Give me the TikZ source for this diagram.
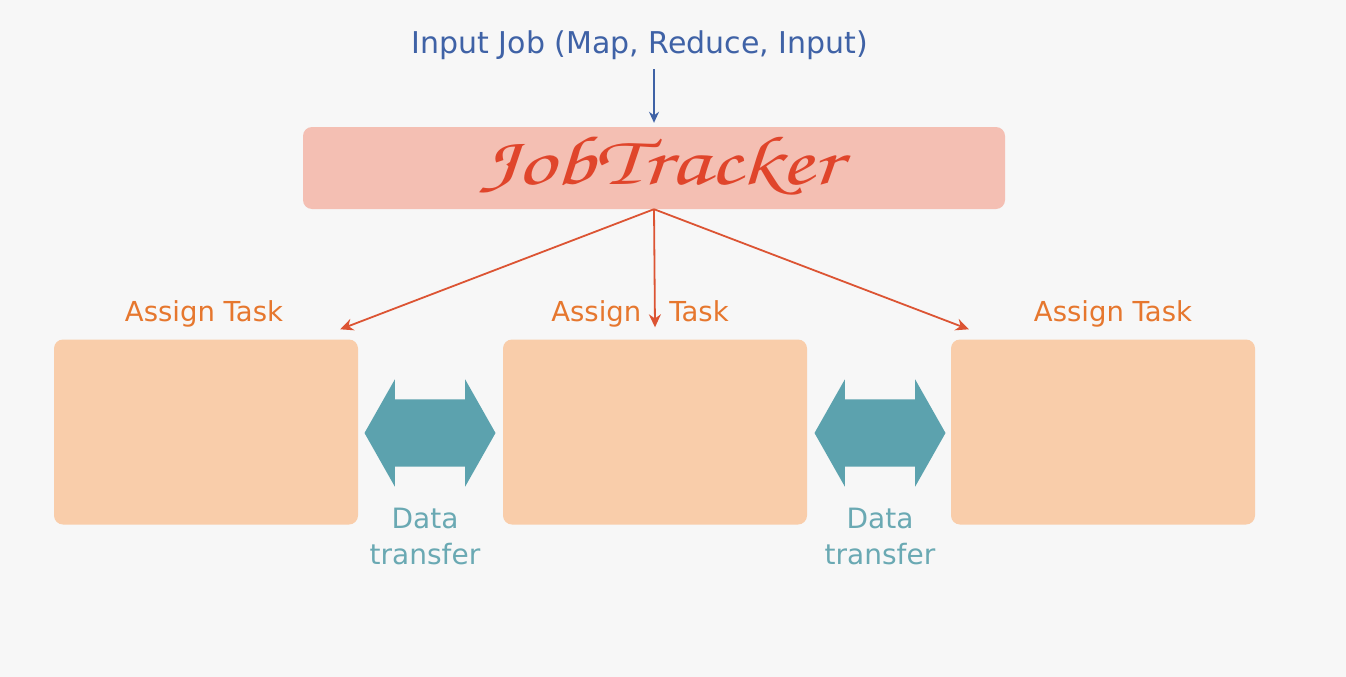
\documentclass[tikz,border=0pt]{standalone}
\usepackage[T1,TU]{fontenc}
\usepackage{fontspec}
\setmainfont{DejaVu Sans}
\usetikzlibrary{positioning}
\usetikzlibrary{shapes.arrows}
\usetikzlibrary{arrows.meta}

\definecolor{bg}{HTML}{F7F7F7}
\definecolor{peach}{HTML}{F9CDAA}
\definecolor{salmon}{HTML}{F4BFB3}
\definecolor{jtred}{HTML}{E0452B}
\definecolor{arrred}{HTML}{DC5433}
\definecolor{inblue}{HTML}{3F62A6}
\definecolor{lblorange}{HTML}{E6772E}
\definecolor{teal}{HTML}{5CA2AE}
\definecolor{tealtext}{HTML}{6AA9B3}

\newcommand{\jtfont}{\fontencoding{T1}\fontfamily{pzc}\fontseries{mb}\fontshape{it}\selectfont}

\begin{document}
\begin{tikzpicture}[
		x=1pt, y=-1pt,
		box/.style={fill=peach, rounded corners=9pt, minimum width=304pt, minimum height=185pt, inner sep=0pt},
		jt/.style={fill=salmon, rounded corners=9pt, minimum width=702pt, minimum height=82pt, inner sep=0pt},
		lbl/.style={text=lblorange, font=\fontsize{27.5}{30}\selectfont},
		dt/.style={text=tealtext, align=center, font=\fontsize{28}{36}\selectfont},
		dbl/.style={double arrow, fill=teal, double arrow head extend=20pt, double arrow tip angle=121, minimum height=131pt, inner xsep=0pt, inner ysep=33.5pt},
		ba/.style={-{Stealth[length=11pt, width=10pt]}, inblue, line width=1.6pt, shorten >=4pt, shorten <=6pt},
		ra/.style={-{Stealth[length=13pt, width=12pt]}, arrred, line width=1.8pt},
	]
		\fill[bg] (0,0) rectangle (1346,677);
		\useasboundingbox (0,0) rectangle (1346,677);

		\node[jt] (JT) at (654,168) {};
		\node[text=jtred, font=\fontsize{70}{72}\jtfont] (JTtext) at (660,166) {\scalebox{1.35}[1]{JobTracker}};
		\node[text=inblue, font=\fontsize{30}{32}\selectfont] (In) at (640,45) {Input Job (Map, Reduce, Input)};

		\node[box] (B1) at (206,432) {};
		\node[box] (B2) at (655,432) {};
		\node[box] (B3) at (1103,432) {};

		\node[lbl] (L1) at (204,314) {Assign Task};
		\node[lbl] (L2) at (640,314) {Assign\hspace{28pt}Task};
		\node[lbl] (L3) at (1113,314) {Assign Task};

		\node[dbl] (D1) at (430,433) {};
		\node[dbl] (D2) at (880,433) {};
		\node[dt] (T1) at (425,536) {Data\\transfer};
		\node[dt] (T2) at (880,536) {Data\\transfer};

		\draw[ba] (In.south -| JT.north) -- (JT.north);
		\draw[ra] (JT.south) -- ([shift={(-18,-10)}]B1.north east);
		\draw[ra] (JT.south) -- ([shift={(0,-12)}]B2.north);
		\draw[ra] (JT.south) -- ([shift={(18,-10)}]B3.north west);
	\end{tikzpicture}
\end{document}
